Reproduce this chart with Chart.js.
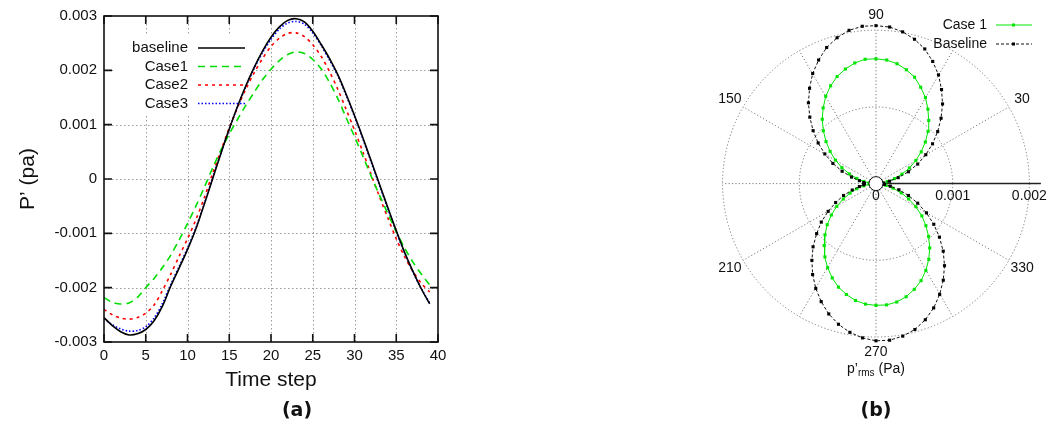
<!DOCTYPE html>
<html>
<head>
<meta charset="utf-8">
<script src="https://cdn.jsdelivr.net/npm/chart.js@4.4.0/dist/chart.umd.min.js"></script>
<style>
    html, body { margin: 0; padding: 0; background: #fff; }
    body { width: 1050px; height: 433px; position: relative; overflow: hidden; }
    canvas { position: absolute; top: 0; }
    #timeChart { left: 0; }
    #polarChart { left: 700px; }
</style>
</head>
<body>
<canvas id="timeChart" width="600" height="433"></canvas>
<canvas id="polarChart" width="350" height="433"></canvas>
<script>
// ============================================
// DATA - panel (a): pressure fluctuation vs time step
// ============================================
const timeSteps = [0, 1, 2, 3, 4, 5, 6, 7, 8, 9, 10, 11, 12, 13, 14, 15, 16, 17, 18, 19,
    20, 21, 22, 23, 24, 25, 26, 27, 28, 29, 30, 31, 32, 33, 34, 35, 36, 37, 38, 39];

const baselineP = [-0.00255, -0.00270, -0.00281, -0.00287, -0.00285, -0.00277, -0.00261, -0.00234, -0.00197, -0.00164,
    -0.00130, -0.00092, -0.00047, 0.00000, 0.00047, 0.00092, 0.00134, 0.00172, 0.00206, 0.00236,
    0.00261, 0.00280, 0.00292, 0.00295, 0.00289, 0.00272, 0.00248, 0.00222, 0.00192, 0.00156,
    0.00117, 0.00076, 0.00033, -0.00010, -0.00053, -0.00095, -0.00135, -0.00170, -0.00202, -0.00230];

const case1P = [-0.00218, -0.00227, -0.00230, -0.00228, -0.00218, -0.00200, -0.00183, -0.00163, -0.00140, -0.00112,
    -0.00082, -0.00050, -0.00016, 0.00020, 0.00053, 0.00083, 0.00110, 0.00136, 0.00160, 0.00183,
    0.00202, 0.00218, 0.00229, 0.00234, 0.00231, 0.00220, 0.00203, 0.00178, 0.00148, 0.00113,
    0.00078, 0.00042, 0.00005, -0.00030, -0.00064, -0.00097, -0.00127, -0.00153, -0.00175, -0.00195];

const case2P = [-0.00240, -0.00250, -0.00256, -0.00258, -0.00255, -0.00247, -0.00232, -0.00205, -0.00175, -0.00142,
    -0.00110, -0.00075, -0.00035, 0.00010, 0.00052, 0.00094, 0.00132, 0.00166, 0.00196, 0.00222,
    0.00244, 0.00259, 0.00268, 0.00269, 0.00262, 0.00247, 0.00226, 0.00198, 0.00165, 0.00128,
    0.00090, 0.00050, 0.00008, -0.00033, -0.00072, -0.00110, -0.00143, -0.00170, -0.00192, -0.00208];

const case3P = [-0.00258, -0.00268, -0.00276, -0.00280, -0.00279, -0.00272, -0.00256, -0.00229, -0.00194, -0.00161,
    -0.00127, -0.00090, -0.00046, 0.00002, 0.00048, 0.00092, 0.00133, 0.00170, 0.00204, 0.00233,
    0.00257, 0.00276, 0.00287, 0.00290, 0.00285, 0.00269, 0.00246, 0.00219, 0.00190, 0.00154,
    0.00115, 0.00074, 0.00031, -0.00012, -0.00055, -0.00097, -0.00136, -0.00171, -0.00202, -0.00228];

const seriesNames = ['baseline', 'Case1', 'Case2', 'Case3'];
const xTickValues = [0, 5, 10, 15, 20, 25, 30, 35, 40];
const yTickValues = [-0.003, -0.002, -0.001, 0, 0.001, 0.002, 0.003];

// ============================================
// DATA - panel (b): p'rms directivity (polar)
// ============================================
const polarAngles = [0, 5, 10, 15, 20, 25, 30, 35, 40, 45, 50, 55, 60, 65, 70, 75, 80, 85,
    90, 95, 100, 105, 110, 115, 120, 125, 130, 135, 140, 145, 150, 155, 160, 165, 170, 175,
    180, 185, 190, 195, 200, 205, 210, 215, 220, 225, 230, 235, 240, 245, 250, 255, 260, 265,
    270, 275, 280, 285, 290, 295, 300, 305, 310, 315, 320, 325, 330, 335, 340, 345, 350, 355];

const baselineRms = [0.00008, 0.00010, 0.00018, 0.00030, 0.00045, 0.00060, 0.00075, 0.00090, 0.00105, 0.00120,
    0.00135, 0.00149, 0.00163, 0.00175, 0.00186, 0.00194, 0.00200, 0.00204,
    0.00205, 0.00205, 0.00202, 0.00196, 0.00188, 0.00177, 0.00165, 0.00151, 0.00137, 0.00122,
    0.00107, 0.00092, 0.00077, 0.00062, 0.00047, 0.00033, 0.00022, 0.00016,
    0.00015, 0.00016, 0.00022, 0.00032, 0.00045, 0.00058, 0.00072, 0.00087, 0.00101, 0.00116,
    0.00130, 0.00144, 0.00157, 0.00169, 0.00180, 0.00189, 0.00196, 0.00201,
    0.00204, 0.00204, 0.00201, 0.00196, 0.00188, 0.00178, 0.00166, 0.00153, 0.00139, 0.00124,
    0.00108, 0.00092, 0.00076, 0.00060, 0.00045, 0.00031, 0.00019, 0.00011];

const case1Rms = [0.00005, 0.00008, 0.00015, 0.00025, 0.00036, 0.00048, 0.00060, 0.00072, 0.00084, 0.00096,
    0.00107, 0.00118, 0.00129, 0.00138, 0.00147, 0.00153, 0.00158, 0.00161,
    0.00162, 0.00162, 0.00159, 0.00154, 0.00148, 0.00140, 0.00131, 0.00120, 0.00109, 0.00097,
    0.00085, 0.00073, 0.00061, 0.00049, 0.00037, 0.00026, 0.00016, 0.00009,
    0.00006, 0.00009, 0.00016, 0.00026, 0.00036, 0.00047, 0.00059, 0.00071, 0.00083, 0.00094,
    0.00105, 0.00116, 0.00126, 0.00135, 0.00143, 0.00149, 0.00154, 0.00157,
    0.00158, 0.00158, 0.00156, 0.00152, 0.00146, 0.00139, 0.00130, 0.00120, 0.00109, 0.00097,
    0.00085, 0.00073, 0.00060, 0.00047, 0.00035, 0.00023, 0.00013, 0.00007];

const polarSeriesNames = ['Case 1', 'Baseline'];
const radialRings = [0.001, 0.002];
const radialTickLabels = ['0', '0.001', '0.002'];
const spokeAngles = [0, 30, 60, 90, 120, 150, 180, 210, 240, 270, 300, 330];
const angleLabels = [30, 90, 150, 210, 270, 330];

// ============================================
// HELPERS
// ============================================
const FONT = "'Liberation Sans', Arial, sans-serif";
const TEXT = '#111';

function toXY(xs, ys) {
    return xs.map((x, i) => ({ x: x, y: ys[i] }));
}

function toPolarXY(angles, radii) {
    const pts = angles.map((a, i) => {
        const t = a * Math.PI / 180;
        return { x: radii[i] * Math.cos(t), y: radii[i] * Math.sin(t) };
    });
    pts.push(pts[0]); // close the loop
    return pts;
}

function formatP(v) {
    return Math.abs(v) < 1e-9 ? '0' : v.toFixed(3);
}

// ============================================
// PANEL (a) PLUGIN - gnuplot style frame, grid, legend
// ============================================
const timeFrame = {
    id: 'timeFrame',
    beforeDatasetsDraw(chart) {
        const { ctx, chartArea: a, scales: { x, y } } = chart;
        ctx.save();
        ctx.strokeStyle = '#9a9a9a';
        ctx.lineWidth = 1;
        ctx.setLineDash([1.5, 2.5]);
        xTickValues.slice(1, -1).forEach(v => {
            const px = Math.round(x.getPixelForValue(v)) + 0.5;
            ctx.beginPath(); ctx.moveTo(px, a.top); ctx.lineTo(px, a.bottom); ctx.stroke();
        });
        yTickValues.slice(1, -1).forEach(v => {
            const py = Math.round(y.getPixelForValue(v)) + 0.5;
            ctx.beginPath(); ctx.moveTo(a.left, py); ctx.lineTo(a.right, py); ctx.stroke();
        });
        // legend box hides the grid behind it
        ctx.fillStyle = '#fff';
        ctx.fillRect(a.left + 9, a.top + 20, 143, 78);
        ctx.restore();
    },
    afterDatasetsDraw(chart) {
        const { ctx, chartArea: a, scales: { x, y } } = chart;
        const datasets = chart.data.datasets;
        ctx.save();
        ctx.strokeStyle = '#111';
        ctx.lineWidth = 1.6;
        ctx.setLineDash([]);
        ctx.strokeRect(a.left, a.top, a.right - a.left, a.bottom - a.top);

        // inward ticks
        const tl = 8;
        xTickValues.forEach(v => {
            const px = x.getPixelForValue(v);
            ctx.beginPath();
            ctx.moveTo(px, a.bottom); ctx.lineTo(px, a.bottom - tl);
            ctx.moveTo(px, a.top); ctx.lineTo(px, a.top + tl);
            ctx.stroke();
        });
        yTickValues.forEach(v => {
            const py = y.getPixelForValue(v);
            ctx.beginPath();
            ctx.moveTo(a.left, py); ctx.lineTo(a.left + tl, py);
            ctx.moveTo(a.right, py); ctx.lineTo(a.right - tl, py);
            ctx.stroke();
        });

        // legend
        ctx.font = '15px ' + FONT;
        ctx.fillStyle = TEXT;
        ctx.textAlign = 'right';
        ctx.textBaseline = 'middle';
        seriesNames.forEach((name, i) => {
            const ly = a.top + 32 + i * 18.5;
            ctx.fillText(name, a.left + 84, ly);
            const ds = datasets[i];
            ctx.strokeStyle = ds.borderColor;
            ctx.lineWidth = ds.borderWidth;
            ctx.setLineDash(ds.borderDash || []);
            ctx.beginPath();
            ctx.moveTo(a.left + 94, ly); ctx.lineTo(a.left + 141, ly);
            ctx.stroke();
        });
        ctx.setLineDash([]);

        // axis titles
        ctx.fillStyle = TEXT;
        ctx.font = '21px ' + FONT;
        ctx.textAlign = 'center';
        ctx.fillText('Time step', (a.left + a.right) / 2, 380);
        ctx.save();
        ctx.translate(28, (a.top + a.bottom) / 2);
        ctx.rotate(-Math.PI / 2);
        ctx.fillText('P\u2019 (pa)', 0, 0);
        ctx.restore();

        // panel label
        ctx.font = "bold 19px 'DejaVu Sans', sans-serif";
        ctx.fillText('(a)', 297, 411);
        ctx.restore();
    }
};

// ============================================
// PANEL (b) PLUGIN - polar grid, labels, legend
// ============================================
const polarFrame = {
    id: 'polarFrame',
    beforeDatasetsDraw(chart) {
        const { ctx, scales: { x, y } } = chart;
        const cx = x.getPixelForValue(0);
        const cy = y.getPixelForValue(0);
        const rPx = v => x.getPixelForValue(v) - cx;
        const outer = rPx(radialRings[radialRings.length - 1]);
        ctx.save();
        ctx.strokeStyle = '#777';
        ctx.lineWidth = 1;
        ctx.setLineDash([1.2, 2.2]);
        radialRings.forEach(r => {
            ctx.beginPath(); ctx.arc(cx, cy, rPx(r), 0, 2 * Math.PI); ctx.stroke();
        });
        spokeAngles.forEach(deg => {
            if (deg === 0) return;
            const t = deg * Math.PI / 180;
            ctx.beginPath();
            ctx.moveTo(cx, cy);
            ctx.lineTo(cx + outer * Math.cos(t), cy - outer * Math.sin(t));
            ctx.stroke();
        });
        // polar axis (0 deg)
        ctx.setLineDash([]);
        ctx.strokeStyle = '#222';
        ctx.lineWidth = 1.5;
        ctx.beginPath(); ctx.moveTo(cx, cy); ctx.lineTo(cx + rPx(0.00215), cy); ctx.stroke();

        // angle labels
        ctx.fillStyle = TEXT;
        ctx.font = '14px ' + FONT;
        ctx.textAlign = 'center';
        ctx.textBaseline = 'middle';
        const lr = rPx(0.0022);
        angleLabels.forEach(deg => {
            const t = deg * Math.PI / 180;
            ctx.fillText(String(deg), cx + lr * Math.cos(t), cy - lr * Math.sin(t));
        });
        // radial tick labels
        radialTickLabels.forEach(lbl => {
            ctx.fillText(lbl, x.getPixelForValue(parseFloat(lbl)), cy + 13);
        });
        ctx.restore();
    },
    afterDatasetsDraw(chart) {
        const { ctx, scales: { x, y } } = chart;
        const cx = x.getPixelForValue(0);
        const cy = y.getPixelForValue(0);
        const datasets = chart.data.datasets;
        ctx.save();
        // centre marker
        ctx.fillStyle = '#fff';
        ctx.strokeStyle = '#111';
        ctx.lineWidth = 1;
        ctx.beginPath(); ctx.arc(cx, cy, 7, 0, 2 * Math.PI); ctx.fill(); ctx.stroke();

        // legend (gnuplot style: text then sample)
        ctx.font = '14px ' + FONT;
        ctx.textAlign = 'right';
        ctx.textBaseline = 'middle';
        polarSeriesNames.forEach((name, i) => {
            const ds = datasets.find(d => d.label === name);
            const ly = 25 + i * 19;
            ctx.fillStyle = TEXT;
            ctx.fillText(name, 287, ly);
            ctx.strokeStyle = ds.borderColor;
            ctx.lineWidth = ds.borderWidth;
            ctx.setLineDash(ds.borderDash || []);
            ctx.beginPath(); ctx.moveTo(296, ly); ctx.lineTo(332, ly); ctx.stroke();
            ctx.setLineDash([]);
            ctx.fillStyle = ds.pointBackgroundColor;
            ctx.fillRect(312, ly - 1.5, 3, 3);
        });

        // radial axis title p'rms (Pa)
        ctx.fillStyle = TEXT;
        ctx.textAlign = 'left';
        ctx.textBaseline = 'alphabetic';
        const big = '14px ' + FONT, small = '10px ' + FONT;
        ctx.font = big; const w1 = ctx.measureText('p\u2019').width;
        ctx.font = small; const w2 = ctx.measureText('rms').width;
        ctx.font = big; const w3 = ctx.measureText(' (Pa)').width;
        let tx = cx - (w1 + w2 + w3) / 2;
        const ty = 373;
        ctx.font = big; ctx.fillText('p\u2019', tx, ty); tx += w1;
        ctx.font = small; ctx.fillText('rms', tx, ty + 3); tx += w2;
        ctx.font = big; ctx.fillText(' (Pa)', tx, ty);

        // panel label
        ctx.font = "bold 19px 'DejaVu Sans', sans-serif";
        ctx.textAlign = 'center';
        ctx.textBaseline = 'middle';
        ctx.fillText('(b)', cx, 411);
        ctx.restore();
    }
};

// ============================================
// CHARTS
// ============================================
function initTimeChart() {
    const ctx = document.getElementById('timeChart');
    new Chart(ctx, {
        type: 'line',
        data: {
            datasets: [
                { label: seriesNames[0], data: toXY(timeSteps, baselineP), borderColor: '#000000', borderWidth: 1.6 },
                { label: seriesNames[1], data: toXY(timeSteps, case1P), borderColor: '#00dd00', borderWidth: 1.6, borderDash: [7, 5] },
                { label: seriesNames[2], data: toXY(timeSteps, case2P), borderColor: '#ff0000', borderWidth: 1.6, borderDash: [3, 4] },
                { label: seriesNames[3], data: toXY(timeSteps, case3P), borderColor: '#0000ff', borderWidth: 1.6, borderDash: [1.5, 2] },
            ],
        },
        options: {
            responsive: false,
            animation: false,
            devicePixelRatio: 1,
            elements: { point: { radius: 0 }, line: { tension: 0.3 } },
            layout: { padding: { top: 13, right: 162, bottom: 0, left: 0 } },
            plugins: { legend: { display: false }, tooltip: { enabled: false } },
            scales: {
                x: {
                    type: 'linear',
                    min: 0,
                    max: 40,
                    afterBuildTicks: (s) => { s.ticks = xTickValues.map(v => ({ value: v })); },
                    afterFit: (s) => { s.height = 91; },
                    ticks: { color: TEXT, font: { family: FONT, size: 15 }, padding: 5, maxRotation: 0 },
                    grid: { display: false, drawTicks: false },
                    border: { display: false },
                },
                y: {
                    min: -0.003,
                    max: 0.003,
                    afterBuildTicks: (s) => { s.ticks = yTickValues.map(v => ({ value: v })); },
                    afterFit: (s) => { s.width = 104; },
                    ticks: { color: TEXT, font: { family: FONT, size: 15 }, padding: 7, callback: (v) => formatP(v) },
                    grid: { display: false, drawTicks: false },
                    border: { display: false },
                },
            },
        },
        plugins: [timeFrame],
    });
}

function initPolarChart() {
    const ctx = document.getElementById('polarChart');
    const pxPerUnit = 78.5 / 0.001;
    const cxOff = 176, cyOff = 183;
    new Chart(ctx, {
        type: 'scatter',
        data: {
            datasets: [
                {
                    label: 'Baseline', data: toPolarXY(polarAngles, baselineRms), showLine: true,
                    borderColor: '#111', borderWidth: 1, borderDash: [3, 2],
                    pointStyle: 'rect', pointRadius: 2.2, pointBorderWidth: 0, pointBackgroundColor: '#000',
                },
                {
                    label: 'Case 1', data: toPolarXY(polarAngles, case1Rms), showLine: true,
                    borderColor: '#00e600', borderWidth: 1,
                    pointStyle: 'rect', pointRadius: 2.2, pointBorderWidth: 0, pointBackgroundColor: '#00e600',
                },
            ],
        },
        options: {
            responsive: false,
            animation: false,
            devicePixelRatio: 1,
            layout: { padding: 0 },
            plugins: { legend: { display: false }, tooltip: { enabled: false } },
            scales: {
                x: { display: false, min: -cxOff / pxPerUnit, max: (350 - cxOff) / pxPerUnit },
                y: { display: false, min: -(433 - cyOff) / pxPerUnit, max: cyOff / pxPerUnit },
            },
        },
        plugins: [polarFrame],
    });
}

document.addEventListener('DOMContentLoaded', () => {
    initTimeChart();
    initPolarChart();
});
</script>
</body>
</html>
